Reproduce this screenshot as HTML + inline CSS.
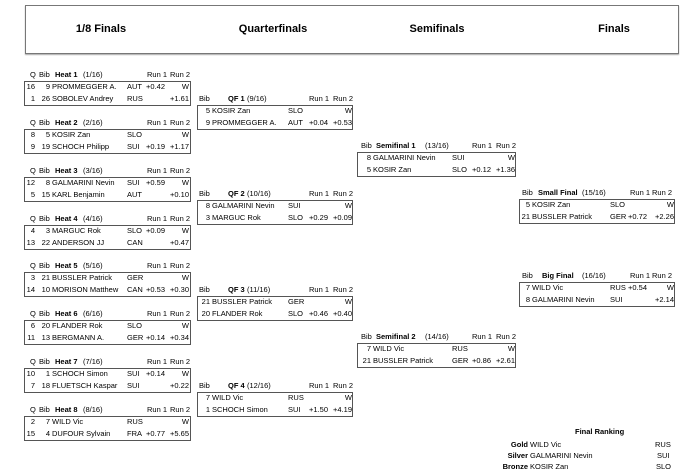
<!DOCTYPE html>
<html><head><meta charset="utf-8"><style>
body{margin:0;width:700px;height:471px;background:#fff;font-family:"Liberation Sans",Arial,sans-serif;font-size:7.5px;color:#000;position:relative;overflow:hidden}
.hdr{position:absolute;left:25px;top:5px;width:652px;height:47px;border:1px solid #777;box-shadow:0 1px 1px #aaa}
.t{position:absolute;top:17px;font-weight:bold;font-size:11px;transform:translateX(-50%)}
.blk{position:absolute;height:36px}
.blk span{position:absolute;line-height:12px;white-space:nowrap}
.bx{position:absolute;left:0;right:0;top:12px;height:23px;border:1px solid #555}
.row{position:absolute;left:0;right:0;height:12px}
.r1{top:12px}.r2{top:24px}
.ra{text-align:right}
b{font-weight:bold}
.fr{position:absolute;font-size:7.5px;line-height:10px;white-space:nowrap}
</style></head><body>
<div class="hdr">
<div class="t" style="left:75px">1/8 Finals</div>
<div class="t" style="left:247px">Quarterfinals</div>
<div class="t" style="left:411px">Semifinals</div>
<div class="t" style="left:588px">Finals</div>
</div>

<!-- Heats -->
<div class="blk" style="left:24px;top:69px;width:167px"><span style="left:6px">Q</span><span style="left:15px">Bib</span><span style="left:31px"><b>Heat 1</b></span><span style="left:59px">(1/16)</span><span style="left:123px">Run 1</span><span style="left:146px">Run 2</span><div class="bx"></div>
<div class="row r1"><span class="ra" style="left:0;width:11px">16</span><span class="ra" style="left:13px;width:13px">9</span><span style="left:28px">PROMMEGGER A.</span><span style="left:103px">AUT</span><span class="ra" style="left:115px;width:26px">+0.42</span><span class="ra" style="left:139px;width:26px">W</span></div>
<div class="row r2"><span class="ra" style="left:0;width:11px">1</span><span class="ra" style="left:13px;width:13px">26</span><span style="left:28px">SOBOLEV Andrey</span><span style="left:103px">RUS</span><span class="ra" style="left:139px;width:26px">+1.61</span></div></div>

<div class="blk" style="left:24px;top:117px;width:167px"><span style="left:6px">Q</span><span style="left:15px">Bib</span><span style="left:31px"><b>Heat 2</b></span><span style="left:59px">(2/16)</span><span style="left:123px">Run 1</span><span style="left:146px">Run 2</span><div class="bx"></div>
<div class="row r1"><span class="ra" style="left:0;width:11px">8</span><span class="ra" style="left:13px;width:13px">5</span><span style="left:28px">KOSIR Zan</span><span style="left:103px">SLO</span><span class="ra" style="left:139px;width:26px">W</span></div>
<div class="row r2"><span class="ra" style="left:0;width:11px">9</span><span class="ra" style="left:13px;width:13px">19</span><span style="left:28px">SCHOCH Philipp</span><span style="left:103px">SUI</span><span class="ra" style="left:115px;width:26px">+0.19</span><span class="ra" style="left:139px;width:26px">+1.17</span></div></div>

<div class="blk" style="left:24px;top:165px;width:167px"><span style="left:6px">Q</span><span style="left:15px">Bib</span><span style="left:31px"><b>Heat 3</b></span><span style="left:59px">(3/16)</span><span style="left:123px">Run 1</span><span style="left:146px">Run 2</span><div class="bx"></div>
<div class="row r1"><span class="ra" style="left:0;width:11px">12</span><span class="ra" style="left:13px;width:13px">8</span><span style="left:28px">GALMARINI Nevin</span><span style="left:103px">SUI</span><span class="ra" style="left:115px;width:26px">+0.59</span><span class="ra" style="left:139px;width:26px">W</span></div>
<div class="row r2"><span class="ra" style="left:0;width:11px">5</span><span class="ra" style="left:13px;width:13px">15</span><span style="left:28px">KARL Benjamin</span><span style="left:103px">AUT</span><span class="ra" style="left:139px;width:26px">+0.10</span></div></div>

<div class="blk" style="left:24px;top:213px;width:167px"><span style="left:6px">Q</span><span style="left:15px">Bib</span><span style="left:31px"><b>Heat 4</b></span><span style="left:59px">(4/16)</span><span style="left:123px">Run 1</span><span style="left:146px">Run 2</span><div class="bx"></div>
<div class="row r1"><span class="ra" style="left:0;width:11px">4</span><span class="ra" style="left:13px;width:13px">3</span><span style="left:28px">MARGUC Rok</span><span style="left:103px">SLO</span><span class="ra" style="left:115px;width:26px">+0.09</span><span class="ra" style="left:139px;width:26px">W</span></div>
<div class="row r2"><span class="ra" style="left:0;width:11px">13</span><span class="ra" style="left:13px;width:13px">22</span><span style="left:28px">ANDERSON JJ</span><span style="left:103px">CAN</span><span class="ra" style="left:139px;width:26px">+0.47</span></div></div>

<div class="blk" style="left:24px;top:260px;width:167px"><span style="left:6px">Q</span><span style="left:15px">Bib</span><span style="left:31px"><b>Heat 5</b></span><span style="left:59px">(5/16)</span><span style="left:123px">Run 1</span><span style="left:146px">Run 2</span><div class="bx"></div>
<div class="row r1"><span class="ra" style="left:0;width:11px">3</span><span class="ra" style="left:13px;width:13px">21</span><span style="left:28px">BUSSLER Patrick</span><span style="left:103px">GER</span><span class="ra" style="left:139px;width:26px">W</span></div>
<div class="row r2"><span class="ra" style="left:0;width:11px">14</span><span class="ra" style="left:13px;width:13px">10</span><span style="left:28px">MORISON Matthew</span><span style="left:103px">CAN</span><span class="ra" style="left:115px;width:26px">+0.53</span><span class="ra" style="left:139px;width:26px">+0.30</span></div></div>

<div class="blk" style="left:24px;top:308px;width:167px"><span style="left:6px">Q</span><span style="left:15px">Bib</span><span style="left:31px"><b>Heat 6</b></span><span style="left:59px">(6/16)</span><span style="left:123px">Run 1</span><span style="left:146px">Run 2</span><div class="bx"></div>
<div class="row r1"><span class="ra" style="left:0;width:11px">6</span><span class="ra" style="left:13px;width:13px">20</span><span style="left:28px">FLANDER Rok</span><span style="left:103px">SLO</span><span class="ra" style="left:139px;width:26px">W</span></div>
<div class="row r2"><span class="ra" style="left:0;width:11px">11</span><span class="ra" style="left:13px;width:13px">13</span><span style="left:28px">BERGMANN A.</span><span style="left:103px">GER</span><span class="ra" style="left:115px;width:26px">+0.14</span><span class="ra" style="left:139px;width:26px">+0.34</span></div></div>

<div class="blk" style="left:24px;top:356px;width:167px"><span style="left:6px">Q</span><span style="left:15px">Bib</span><span style="left:31px"><b>Heat 7</b></span><span style="left:59px">(7/16)</span><span style="left:123px">Run 1</span><span style="left:146px">Run 2</span><div class="bx"></div>
<div class="row r1"><span class="ra" style="left:0;width:11px">10</span><span class="ra" style="left:13px;width:13px">1</span><span style="left:28px">SCHOCH Simon</span><span style="left:103px">SUI</span><span class="ra" style="left:115px;width:26px">+0.14</span><span class="ra" style="left:139px;width:26px">W</span></div>
<div class="row r2"><span class="ra" style="left:0;width:11px">7</span><span class="ra" style="left:13px;width:13px">18</span><span style="left:28px">FLUETSCH Kaspar</span><span style="left:103px">SUI</span><span class="ra" style="left:139px;width:26px">+0.22</span></div></div>

<div class="blk" style="left:24px;top:404px;width:167px"><span style="left:6px">Q</span><span style="left:15px">Bib</span><span style="left:31px"><b>Heat 8</b></span><span style="left:59px">(8/16)</span><span style="left:123px">Run 1</span><span style="left:146px">Run 2</span><div class="bx"></div>
<div class="row r1"><span class="ra" style="left:0;width:11px">2</span><span class="ra" style="left:13px;width:13px">7</span><span style="left:28px">WILD Vic</span><span style="left:103px">RUS</span><span class="ra" style="left:139px;width:26px">W</span></div>
<div class="row r2"><span class="ra" style="left:0;width:11px">15</span><span class="ra" style="left:13px;width:13px">4</span><span style="left:28px">DUFOUR Sylvain</span><span style="left:103px">FRA</span><span class="ra" style="left:115px;width:26px">+0.77</span><span class="ra" style="left:139px;width:26px">+5.65</span></div></div>

<!-- QFs -->
<div class="blk" style="left:197px;top:93px;width:156px"><span style="left:2px">Bib</span><span style="left:31px"><b>QF 1</b></span><span style="left:50px">(9/16)</span><span style="left:112px">Run 1</span><span style="left:136px">Run 2</span><div class="bx"></div>
<div class="row r1"><span class="ra" style="left:0;width:13px">5</span><span style="left:15px">KOSIR Zan</span><span style="left:91px">SLO</span><span class="ra" style="left:129px;width:26px">W</span></div>
<div class="row r2"><span class="ra" style="left:0;width:13px">9</span><span style="left:15px">PROMMEGGER A.</span><span style="left:91px">AUT</span><span class="ra" style="left:105px;width:26px">+0.04</span><span class="ra" style="left:129px;width:26px">+0.53</span></div></div>

<div class="blk" style="left:197px;top:188px;width:156px"><span style="left:2px">Bib</span><span style="left:31px"><b>QF 2</b></span><span style="left:50px">(10/16)</span><span style="left:112px">Run 1</span><span style="left:136px">Run 2</span><div class="bx"></div>
<div class="row r1"><span class="ra" style="left:0;width:13px">8</span><span style="left:15px">GALMARINI Nevin</span><span style="left:91px">SUI</span><span class="ra" style="left:129px;width:26px">W</span></div>
<div class="row r2"><span class="ra" style="left:0;width:13px">3</span><span style="left:15px">MARGUC Rok</span><span style="left:91px">SLO</span><span class="ra" style="left:105px;width:26px">+0.29</span><span class="ra" style="left:129px;width:26px">+0.09</span></div></div>

<div class="blk" style="left:197px;top:284px;width:156px"><span style="left:2px">Bib</span><span style="left:31px"><b>QF 3</b></span><span style="left:50px">(11/16)</span><span style="left:112px">Run 1</span><span style="left:136px">Run 2</span><div class="bx"></div>
<div class="row r1"><span class="ra" style="left:0;width:13px">21</span><span style="left:15px">BUSSLER Patrick</span><span style="left:91px">GER</span><span class="ra" style="left:129px;width:26px">W</span></div>
<div class="row r2"><span class="ra" style="left:0;width:13px">20</span><span style="left:15px">FLANDER Rok</span><span style="left:91px">SLO</span><span class="ra" style="left:105px;width:26px">+0.46</span><span class="ra" style="left:129px;width:26px">+0.40</span></div></div>

<div class="blk" style="left:197px;top:380px;width:156px"><span style="left:2px">Bib</span><span style="left:31px"><b>QF 4</b></span><span style="left:50px">(12/16)</span><span style="left:112px">Run 1</span><span style="left:136px">Run 2</span><div class="bx"></div>
<div class="row r1"><span class="ra" style="left:0;width:13px">7</span><span style="left:15px">WILD Vic</span><span style="left:91px">RUS</span><span class="ra" style="left:129px;width:26px">W</span></div>
<div class="row r2"><span class="ra" style="left:0;width:13px">1</span><span style="left:15px">SCHOCH Simon</span><span style="left:91px">SUI</span><span class="ra" style="left:105px;width:26px">+1.50</span><span class="ra" style="left:129px;width:26px">+4.19</span></div></div>

<!-- SFs -->
<div class="blk" style="left:357px;top:140px;width:159px"><span style="left:4px">Bib</span><span style="left:19px"><b>Semifinal 1</b></span><span style="left:68px">(13/16)</span><span style="left:115px">Run 1</span><span style="left:139px">Run 2</span><div class="bx"></div>
<div class="row r1"><span class="ra" style="left:0;width:14px">8</span><span style="left:16px">GALMARINI Nevin</span><span style="left:95px">SUI</span><span class="ra" style="left:132px;width:26px">W</span></div>
<div class="row r2"><span class="ra" style="left:0;width:14px">5</span><span style="left:16px">KOSIR Zan</span><span style="left:95px">SLO</span><span class="ra" style="left:108px;width:26px">+0.12</span><span class="ra" style="left:132px;width:26px">+1.36</span></div></div>

<div class="blk" style="left:357px;top:331px;width:159px"><span style="left:4px">Bib</span><span style="left:19px"><b>Semifinal 2</b></span><span style="left:68px">(14/16)</span><span style="left:115px">Run 1</span><span style="left:139px">Run 2</span><div class="bx"></div>
<div class="row r1"><span class="ra" style="left:0;width:14px">7</span><span style="left:16px">WILD Vic</span><span style="left:95px">RUS</span><span class="ra" style="left:132px;width:26px">W</span></div>
<div class="row r2"><span class="ra" style="left:0;width:14px">21</span><span style="left:16px">BUSSLER Patrick</span><span style="left:95px">GER</span><span class="ra" style="left:108px;width:26px">+0.86</span><span class="ra" style="left:132px;width:26px">+2.61</span></div></div>

<!-- Finals -->
<div class="blk" style="left:519px;top:187px;width:156px"><span style="left:3px">Bib</span><span style="left:19px"><b>Small Final</b></span><span style="left:63px">(15/16)</span><span style="left:111px">Run 1</span><span style="left:133px">Run 2</span><div class="bx"></div>
<div class="row r1"><span class="ra" style="left:0;width:11px">5</span><span style="left:13px">KOSIR Zan</span><span style="left:91px">SLO</span><span class="ra" style="left:129px;width:26px">W</span></div>
<div class="row r2"><span class="ra" style="left:0;width:11px">21</span><span style="left:13px">BUSSLER Patrick</span><span style="left:91px">GER</span><span class="ra" style="left:102px;width:26px">+0.72</span><span class="ra" style="left:129px;width:26px">+2.26</span></div></div>

<div class="blk" style="left:519px;top:270px;width:156px"><span style="left:3px">Bib</span><span style="left:23px"><b>Big Final</b></span><span style="left:63px">(16/16)</span><span style="left:111px">Run 1</span><span style="left:133px">Run 2</span><div class="bx"></div>
<div class="row r1"><span class="ra" style="left:0;width:11px">7</span><span style="left:13px">WILD Vic</span><span style="left:91px">RUS</span><span class="ra" style="left:102px;width:26px">+0.54</span><span class="ra" style="left:129px;width:26px">W</span></div>
<div class="row r2"><span class="ra" style="left:0;width:11px">8</span><span style="left:13px">GALMARINI Nevin</span><span style="left:91px">SUI</span><span class="ra" style="left:129px;width:26px">+2.14</span></div></div>

<!-- Final ranking -->
<div class="fr" style="left:575px;top:427px;font-weight:bold">Final Ranking</div>
<div class="fr" style="left:480px;top:440px;width:48px;text-align:right;font-weight:bold">Gold</div><div class="fr" style="left:530px;top:440px">WILD Vic</div><div class="fr" style="left:655px;top:440px">RUS</div>
<div class="fr" style="left:480px;top:451px;width:48px;text-align:right;font-weight:bold">Silver</div><div class="fr" style="left:530px;top:451px">GALMARINI Nevin</div><div class="fr" style="left:657px;top:451px">SUI</div>
<div class="fr" style="left:480px;top:462px;width:48px;text-align:right;font-weight:bold">Bronze</div><div class="fr" style="left:530px;top:462px">KOSIR Zan</div><div class="fr" style="left:656px;top:462px">SLO</div>
</body></html>
